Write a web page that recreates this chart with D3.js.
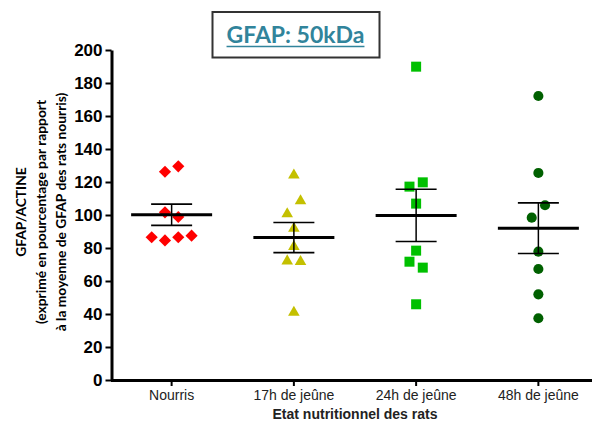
<!DOCTYPE html>
<html>
<head>
<meta charset="utf-8">
<script src="https://cdn.jsdelivr.net/npm/d3@7"></script>
<style>
  html, body { margin: 0; padding: 0; background: #fff; }
  svg { display: block; }
</style>
</head>
<body>
<svg id="chart" width="592" height="424"></svg>
<script>
// ---- Data ----
const categories = ["Nourris", "17h de jeûne", "24h de jeûne", "48h de jeûne"];
const nourris = [126.2, 129.5, 101.6, 98.8, 86.5, 84.6, 86.5, 87.5];
const jeune17h = [124.2, 100.6, 108.5, 91.9, 80.8, 72.1, 71.7, 41.0];
const jeune24h = [189.9, 117.2, 119.8, 106.9, 78.4, 71.7, 68.1, 45.9];
const jeune48h = [172.1, 125.5, 98.4, 105.9, 77.8, 67.3, 51.9, 37.4];
const yTicks = [0, 20, 40, 60, 80, 100, 120, 140, 160, 180, 200];
const chartTitle = "GFAP: 50kDa";
const xTitle = "Etat nutritionnel des rats";
const yTitleLines = ["GFAP/ACTINE", "(exprimé en pourcentage par rapport", "à la moyenne de GFAP des rats nourris)"];

const seriesValues = [nourris, jeune17h, jeune24h, jeune48h];
const seriesColors = ["#FF0000", "#C4C000", "#00C000", "#006000"];
const seriesSymbols = [d3.symbolSquare, d3.symbolTriangle, d3.symbolSquare, d3.symbolCircle];
const seriesSizes = [74, 58, 100, 80];
const seriesRotate = [45, 0, 0, 0];

// ---- Layout ----
const svg = d3.select("#chart");
const x = d3.scaleBand().domain(categories).range([110.5, 599.5]).padding(0);
const y = d3.scaleLinear().domain([0, 200]).range([380, 50]);
const slotStep = 13.3;      // horizontal spread between overlapping points (px)
const overlapPx = 13.7;     // vertical distance under which points share a row

// ---- Title box ----
const tg = svg.append("g");
tg.append("rect").attr("x", 212.5).attr("y", 12).attr("width", 167).attr("height", 45.5)
  .attr("fill", "#fff").attr("stroke", "#333").attr("stroke-width", 2);
const tText = tg.append("text").attr("x", 295.5).attr("y", 42.5)
  .attr("text-anchor", "middle")
  .attr("font-family", "Lato, 'Open Sans', sans-serif").attr("font-weight", "bold")
  .attr("font-size", 23).attr("fill", "#31849B").text(chartTitle);
const tw = tText.node().getComputedTextLength();
tg.append("line").attr("x1", 295.5 - tw / 2).attr("x2", 295.5 + tw / 2)
  .attr("y1", 46.5).attr("y2", 46.5).attr("stroke", "#31849B").attr("stroke-width", 1.6);

// ---- Axes ----
const yAxis = svg.append("g").attr("transform", "translate(111.5,0)")
  .call(d3.axisLeft(y).tickValues(yTicks).tickSize(6).tickSizeOuter(0).tickPadding(3));
yAxis.select(".domain").attr("stroke", "#000").attr("stroke-width", 3);
yAxis.selectAll(".tick line").attr("stroke", "#000").attr("stroke-width", 2);
yAxis.selectAll(".tick text").attr("font-family", "'Liberation Sans', Arial, sans-serif")
  .attr("font-weight", "bold").attr("font-size", 17).attr("fill", "#000");

const xAxis = svg.append("g").attr("transform", "translate(0,380)")
  .call(d3.axisBottom(x).tickSize(6).tickSizeOuter(0).tickPadding(4));
xAxis.select(".domain").attr("stroke", "#000").attr("stroke-width", 3);
xAxis.selectAll(".tick line").attr("stroke", "#000").attr("stroke-width", 2);
xAxis.selectAll(".tick text").attr("font-family", "'Liberation Sans', Arial, sans-serif")
  .attr("font-size", 14).attr("fill", "#222");

// ---- Axis titles ----
svg.append("text").attr("x", 355).attr("y", 419).attr("text-anchor", "middle")
  .attr("font-family", "'Liberation Sans', Arial, sans-serif").attr("font-weight", "bold")
  .attr("font-size", 14).attr("fill", "#222").text(xTitle);

const yTitleX = [21, 41.5, 61];
yTitleLines.forEach((t, i) => {
  svg.append("text")
    .attr("transform", `translate(${yTitleX[i]},212) rotate(-90)`)
    .attr("text-anchor", "middle").attr("dy", "0.35em")
    .attr("font-family", "Lato, 'Open Sans', sans-serif").attr("font-weight", "bold")
    .attr("font-size", 13.8).attr("fill", "#000").text(t);
});

// ---- Points with column-scatter spreading ----
function spread(values) {
  const order = d3.range(values.length).sort((a, b) => values[a] - values[b]);
  const offsets = new Array(values.length).fill(0);
  let i = 0;
  while (i < order.length) {
    const anchor = values[order[i]];
    const group = [order[i]];
    let j = i + 1;
    while (j < order.length && Math.abs(y(values[order[j]]) - y(anchor)) <= overlapPx) {
      group.push(order[j]); j++;
    }
    group.sort((a, b) => a - b);
    group.forEach((idx, k) => { offsets[idx] = (k - (group.length - 1) / 2) * slotStep; });
    i = j;
  }
  return offsets;
}

seriesValues.forEach((vals, si) => {
  const cx = x(categories[si]) + x.bandwidth() / 2;
  const offs = spread(vals);
  const sym = d3.symbol().type(seriesSymbols[si]).size(seriesSizes[si]);
  svg.append("g").selectAll("path").data(vals).join("path")
    .attr("d", sym)
    .attr("transform", (d, k) => `translate(${cx + offs[k]},${y(d)}) rotate(${seriesRotate[si]})`)
    .attr("fill", seriesColors[si]);
});

// ---- Mean ± SEM ----
seriesValues.forEach((vals, si) => {
  const cx = x(categories[si]) + x.bandwidth() / 2;
  const m = d3.mean(vals);
  const sem = d3.deviation(vals) / Math.sqrt(vals.length);
  const g = svg.append("g").attr("stroke", "#000");
  g.append("line").attr("x1", cx).attr("x2", cx).attr("y1", y(m + sem)).attr("y2", y(m - sem))
    .attr("stroke-width", 1.5);
  [m + sem, m - sem].forEach(v => {
    g.append("line").attr("x1", cx - 20.5).attr("x2", cx + 20.5).attr("y1", y(v)).attr("y2", y(v))
      .attr("stroke-width", 1.6);
  });
  g.append("line").attr("x1", cx - 40.5).attr("x2", cx + 40.5).attr("y1", y(m)).attr("y2", y(m))
    .attr("stroke-width", 3);
});
</script>
</body>
</html>
